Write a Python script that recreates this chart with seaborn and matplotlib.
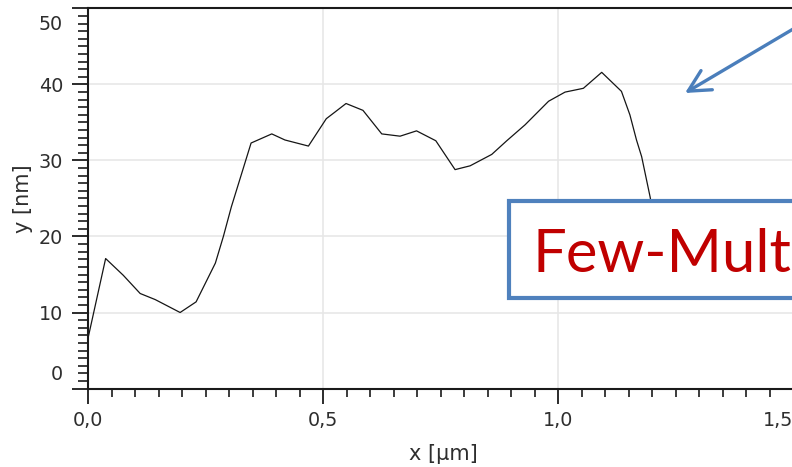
import numpy as np
import pandas as pd
import matplotlib
matplotlib.use("Agg")
import matplotlib.pyplot as plt
import matplotlib.patches as mpatches
from matplotlib.transforms import ScaledTranslation
from matplotlib.ticker import MultipleLocator, FixedLocator
import seaborn as sns

# Height profile along the scan line
x_um = [0.000, 0.0375, 0.075, 0.111, 0.143, 0.196, 0.230, 0.271, 0.288, 0.305,
        0.347, 0.391, 0.419, 0.469, 0.507, 0.526, 0.549, 0.585, 0.625, 0.664,
        0.699, 0.740, 0.781, 0.813, 0.859, 0.891, 0.930, 0.980, 1.015, 1.054,
        1.093, 1.135, 1.153, 1.167, 1.178, 1.196, 1.205]
y_nm = [6.6, 17.1, 14.9, 12.5, 11.7, 10.0, 11.4, 16.5, 20.0, 23.9,
        32.3, 33.5, 32.7, 31.9, 35.5, 36.4, 37.5, 36.6, 33.5, 33.2,
        33.9, 32.6, 28.8, 29.3, 30.8, 32.6, 34.7, 37.8, 39.0, 39.5,
        41.6, 39.1, 36.0, 32.7, 30.5, 25.2, 22.0]

x_ticks = [0.0, 0.5, 1.0, 1.5]
x_tick_labels = ["0,0", "0,5", "1,0", "1,5"]
y_ticks = [0, 10, 20, 30, 40, 50]
y_tick_labels = ["0", "10", "20", "30", "40", "50"]

x_label = "x [µm]"
y_label = "y [nm]"
callout_text = "Few-Multilayer"

profile = pd.DataFrame({"x": x_um, "y": y_nm})

sns.set_theme(style="white")
plt.rcParams["font.family"] = ["DejaVu Sans"]

W, H, DPI = 792, 467, 100
fig = plt.figure(figsize=(W / DPI, H / DPI), dpi=DPI, facecolor="white")

# axes placement in pixels: x=0 at 88 px, 470 px per µm; y 0..50 spans 388.5..8.5 px
left_px, bottom_px, top_px = 88, 388.5, 8.5
x_max = 1.6
ax = fig.add_axes([left_px / W, (H - bottom_px) / H,
                   (x_max * 470) / W, (bottom_px - top_px) / H])
ax.set_xlim(0, x_max)
ax.set_ylim(0, 50)
ax.set_facecolor("white")

sns.lineplot(data=profile, x="x", y="y", ax=ax, color="#151515", lw=0.9,
             sort=False, estimator=None, zorder=3)

# grid
ax.xaxis.set_major_locator(FixedLocator(x_ticks))
ax.yaxis.set_major_locator(FixedLocator(y_ticks))
ax.xaxis.set_minor_locator(MultipleLocator(0.05))
ax.yaxis.set_minor_locator(MultipleLocator(1))
ax.grid(True, which="major", color="#e6e6e6", lw=1.1, zorder=0)
ax.set_axisbelow(True)

# spines
for side in ["left", "bottom", "top"]:
    ax.spines[side].set_visible(True)
    ax.spines[side].set_color("#1a1a1a")
    ax.spines[side].set_linewidth(1.5)
ax.spines["right"].set_visible(False)

tick_color = "#2e2e2e"
ax.tick_params(axis="both", which="both", direction="out", color="#1a1a1a",
               labelcolor=tick_color, labelsize=13.8)
ax.tick_params(axis="y", which="major", length=11.5, width=1.3, pad=6.5,
               left=True, right=False)
ax.tick_params(axis="y", which="minor", length=7.2, width=1.2, left=True, right=False)
ax.tick_params(axis="x", which="major", length=11, width=1.3, pad=5,
               bottom=True, top=False)
ax.tick_params(axis="x", which="minor", length=6, width=1.2, bottom=True, top=False)

ax.set_xticklabels(x_tick_labels)
ax.set_yticklabels(y_tick_labels)

# keep end labels inside the frame
xl = ax.get_xticklabels()
xl[-1].set_horizontalalignment("right")
yl = ax.get_yticklabels()
yl[0].set_transform(yl[0].get_transform() +
                    ScaledTranslation(0, 15.5 / DPI, fig.dpi_scale_trans))
yl[-1].set_transform(yl[-1].get_transform() +
                     ScaledTranslation(0, -14.5 / DPI, fig.dpi_scale_trans))

ax.set_xlabel(x_label, fontsize=15, color=tick_color)
ax.set_ylabel(y_label, fontsize=15, color=tick_color)
ax.xaxis.set_label_coords((443 - left_px) / (x_max * 470), (bottom_px - 444) / 380)
ax.yaxis.set_label_coords((33 - left_px) / (x_max * 470), (bottom_px - 199) / 380)

# callout box with label
blue = "#4f81bd"
box = mpatches.Rectangle((509, H - 298), 320, 97, transform=None,
                         facecolor="white", edgecolor=blue, lw=3.0, zorder=5,
                         clip_on=False)
fig.patches.append(box)
fig.text(532 / W, (H - 272) / H, callout_text, color="#c00000",
         fontsize=43, family=["Lato", "DejaVu Sans"], ha="left", va="baseline",
         zorder=6)

# arrow pointing into the plot
fig.patches.append(mpatches.FancyArrowPatch(
    posA=(805, H - 22), posB=(685, H - 93), transform=None,
    arrowstyle="->,head_length=1.55,head_width=0.8", mutation_scale=10,
    color="#4a7ebb", lw=2.4, shrinkA=0, shrinkB=0, zorder=6))

fig.savefig("out.png", dpi=DPI, facecolor="white")
